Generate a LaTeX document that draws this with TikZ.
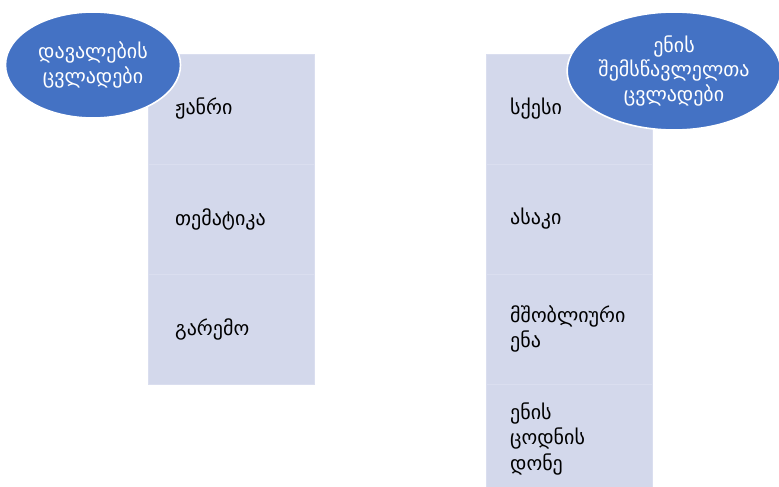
\documentclass[tikz,border=0pt]{standalone}
\usepackage{fontspec}
\newfontfamily\geo{DejaVu Sans}
\usetikzlibrary{shapes.geometric}
\definecolor{cellfill}{HTML}{D3D8EB}
\definecolor{cellsep}{HTML}{DADEEF}
\definecolor{ovalblue}{HTML}{4472C4}
\tikzset{
  cell/.style={draw=cellsep, line width=0.8pt, fill=cellfill, minimum width=166pt, minimum height=110pt, anchor=north west, inner sep=0pt, outer sep=0pt},
  celltext/.style={anchor=west, align=left, inner sep=0pt, font=\geo\fontsize{20}{25.5}\selectfont, text=black},
  oval/.style={ellipse, fill=ovalblue, draw=white, line width=1.6pt, inner sep=0pt, align=center, text=white, font=\geo\fontsize{20}{24.5}\selectfont}
}
\begin{document}
\begin{tikzpicture}[x=1pt,y=-1pt]
\useasboundingbox (0,0) rectangle (779,487);
\fill[white] (0,0) rectangle (779,487);
% left column
\node[cell] (l1) at (148,54) {};
\node[cell] (l2) at (148,164) {};
\node[cell] (l3) at (148,274) {};
\node[celltext] (t1) at ([xshift=27pt]l1.west) {ჟანრი};
\node[celltext] (t2) at ([xshift=27pt]l2.west) {თემატიკა};
\node[celltext] (t3) at ([xshift=27pt]l3.west) {გარემო};
% right column
\node[cell] (r1) at (486,54) {};
\node[cell] (r2) at (486,164) {};
\node[cell] (r3) at (486,274) {};
\node[cell] (r4) at (486,384) {};
\node[celltext] (s1) at ([xshift=24pt]r1.west) {სქესი};
\node[celltext] (s2) at ([xshift=24pt]r2.west) {ასაკი};
\node[celltext] (s3) at ([xshift=24pt]r3.west) {მშობლიური\\ენა};
\node[celltext] (s4) at ([xshift=24pt]r4.west) {ენის\\ცოდნის\\დონე};
% ovals
\node[oval, minimum width=175pt, minimum height=106pt] (o1) at (93,65) {დავალების\\ცვლადები};
\node[oval, minimum width=212pt, minimum height=118pt] (o2) at (674,71) {ენის\\შემსწავლელთა\\ცვლადები};
\end{tikzpicture}
\end{document}
